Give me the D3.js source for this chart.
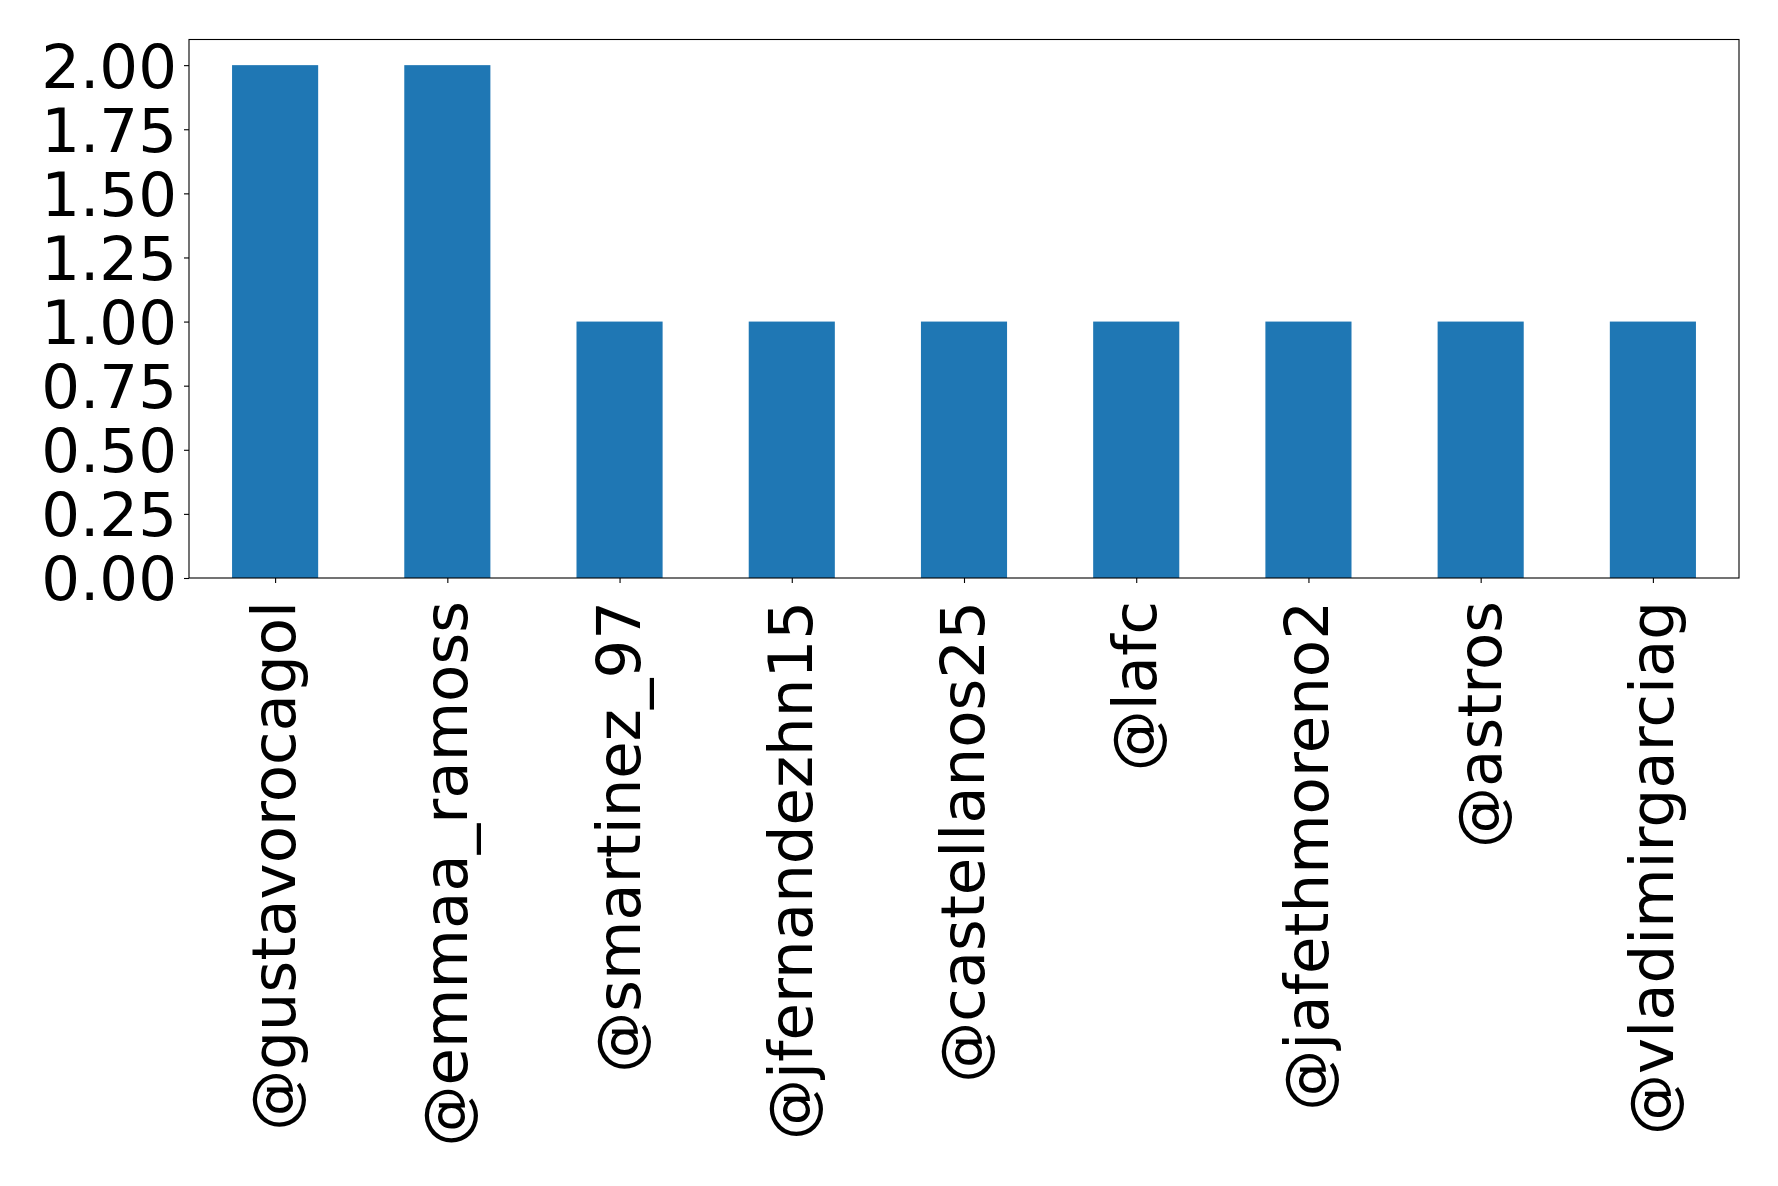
<!DOCTYPE html>
<html><head><meta charset="utf-8">
<script src="https://cdn.jsdelivr.net/npm/d3@7"></script>
<style>html,body{margin:0;padding:0;background:#fff;}</style>
</head><body>
<svg id="chart" width="1778" height="1186"></svg>
<script>
const categories = ["@gustavorocagol","@emmaa_ramoss","@smartinez_97","@jfernandezhn15","@castellanos25","@lafc","@jafethmoreno2","@astros","@vladimirgarciag"];
const values = [2,2,1,1,1,1,1,1,1];
const yTicks = [0,0.25,0.5,0.75,1.0,1.25,1.5,1.75,2.0];

const svg = d3.select("#chart");
const L = 189, R = 1739, T = 39.5, B = 578;
const font = "DejaVu Sans";
const fs = 61;

const x = d3.scaleLinear().domain([-0.5, categories.length - 0.5]).range([L, R]);
const y = d3.scaleLinear().domain([0, 2.1]).range([B, T]);

svg.append("g").selectAll("rect").data(values).join("rect")
  .attr("x", (d,i) => x(i - 0.25))
  .attr("width", (d,i) => x(i + 0.25) - x(i - 0.25))
  .attr("y", d => y(d))
  .attr("height", d => y(0) - y(d))
  .attr("fill", "#1f77b4");

// y axis
const yAxis = d3.axisLeft(y).tickValues(yTicks).tickFormat(d3.format(".2f")).tickSize(5).tickPadding(7);
const gy = svg.append("g").attr("transform", `translate(${L},0)`).call(yAxis);
gy.select(".domain").remove();
gy.selectAll("line").attr("stroke", "#000").attr("stroke-width", 1.1);
gy.selectAll("text").attr("font-family", font).attr("font-size", fs).attr("fill", "#000").attr("dy", "0.36em");

// x axis
const xAxis = d3.axisBottom(x).tickValues(d3.range(categories.length)).tickFormat(i => categories[i]).tickSize(5).tickPadding(0);
const gx = svg.append("g").attr("transform", `translate(0,${B})`).call(xAxis);
gx.select(".domain").remove();
gx.selectAll("line").attr("stroke", "#000").attr("stroke-width", 1.1);
gx.selectAll("text")
  .attr("font-family", font).attr("font-size", fs).attr("fill", "#000")
  .attr("text-anchor", "end")
  .attr("transform", "translate(0,23) rotate(-90)")
  .attr("x", 0).attr("y", 0).attr("dy", "0.32em");

// frame
svg.append("rect").attr("x", L).attr("y", T).attr("width", R - L).attr("height", B - T)
  .attr("fill", "none").attr("stroke", "#000").attr("stroke-width", 1.1);
</script>
</body></html>
